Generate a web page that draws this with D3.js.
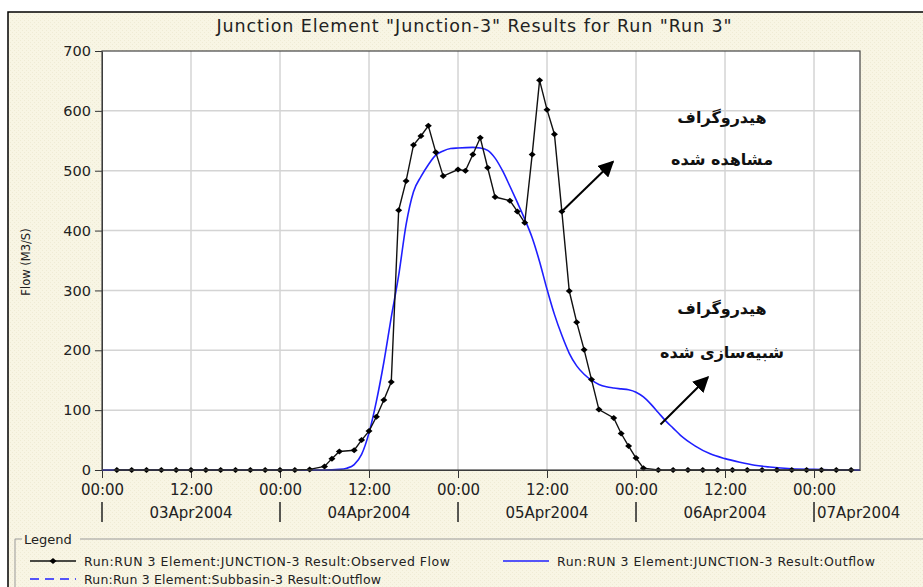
<!DOCTYPE html>
<html>
<head>
<meta charset="utf-8">
<script src="https://cdnjs.cloudflare.com/ajax/libs/d3/7.8.5/d3.min.js"></script>
<style>
body{margin:0;background:#fff;}
svg{display:block;}
</style>
</head>
<body>
<svg class="hydroChart" width="923" height="587"></svg>
<script>
// observed flow, hours after 03Apr2004 00:00
const observedHours = [2,4,6,8,10,12,14,16,18,20,22,24,26,28,30,31,32,34,35,36,37,38,39,40,41,42,43,44,45,46,48,49,50,51,52,53,55,56,57,58,59,60,61,62,63,64,65,66,67,69,70,71,72,73,75,77,79,81,83,85,87,89,91,93,95,97,99,101];
const observedFlow  = [0,0,0,0,0,0,0,0,0,0,0,0,0,1,6,19,31,33,50,65,89,117,147,434,483,543,558,575,531,491,502,500,527,555,505,456,450,432,413,527,651,602,561,432,299,247,201,151,101,87,61,40,20,3,0,0,0,0,0,0,0,0,0,0,0,0,0,0];

// simulated outflow (blue)
const simHours = [0,30,32,33,34,35,36,37,38,39,40,41,42,43,44,45,46,47,48,50,51,52,53,54,55,56,57,58,59,60,61,62,63,64,65,66,67,68,69,70,71,72,73,74,75,76,77,78,80,82,84,86,88,90,93,96,100,102.2];
const simFlow  = [0,0,1,3,9,26,62,115,180,255,325,410,465,490,510,526,533,537,538,539,538,534,521,500,474,447,419,388,348,302,260,225,195,174,160,150,143,139,137,135.5,134,130,122,110,96,82,70,58,40,27,19,13,8,5,2,1,0,0];

const yTicks = [0,100,200,300,400,500,600,700];
const dayLabels = ["03Apr2004","04Apr2004","05Apr2004","06Apr2004","07Apr2004"];
const legendLabels = [
  "Run:RUN 3 Element:JUNCTION-3 Result:Observed Flow",
  "Run:RUN 3 Element:JUNCTION-3 Result:Outflow",
  "Run:Run 3 Element:Subbasin-3 Result:Outflow"
];
const titleText = 'Junction Element "Junction-3" Results for Run "Run 3"';
const yLabel = "Flow (M3/S)";

// persian notes, placed in data units (hour, flow)
const notes = [
  {h: 83.6, v: 587, text: "هیدروگراف"},
  {h: 83.6, v: 517, text: "مشاهده شده"},
  {h: 83.6, v: 268, text: "هیدروگراف"},
  {h: 83.6, v: 195, text: "شبیه\u200Cسازی شده"}
];
const arrows = [
  {h0: 62, v0: 432, h1: 68.9, v1: 515},
  {h0: 75.3, v0: 76, h1: 81.7, v1: 155}
];

const start = Date.UTC(2004, 3, 3, 0, 0);
const endHour = 102.2;
const toDate = h => new Date(start + h * 3600e3);

const svg = d3.select(".hydroChart");
const font = "'DejaVu Sans', Verdana, sans-serif";

// cream textured background
const defs = svg.append("defs");
const pat = defs.append("pattern").attr("id", "tex").attr("width", 4).attr("height", 4)
  .attr("patternUnits", "userSpaceOnUse");
pat.append("rect").attr("width", 4).attr("height", 4).attr("fill", "#f8f5e4");
pat.append("rect").attr("x", 0).attr("y", 0).attr("width", 1).attr("height", 1).attr("fill", "#efebd5");
pat.append("rect").attr("x", 2).attr("y", 2).attr("width", 1).attr("height", 1).attr("fill", "#efebd5");
defs.append("marker").attr("id", "arrowHead")
  .attr("viewBox", "0 0 10 10").attr("refX", 9).attr("refY", 5)
  .attr("markerWidth", 8).attr("markerHeight", 8).attr("markerUnits", "strokeWidth")
  .attr("orient", "auto")
  .append("path").attr("d", "M0,0 L10,5 L0,10 Z").attr("fill", "#000");

svg.append("rect").attr("x", 8).attr("y", 12).attr("width", 930).attr("height", 600)
  .attr("fill", "url(#tex)").attr("stroke", "#000").attr("stroke-width", 1.5);

// title
svg.append("text").attr("x", 474).attr("y", 32)
  .attr("text-anchor", "middle").attr("font-family", font).attr("font-size", 17.5)
  .attr("fill", "#222").attr("textLength", 515).attr("lengthAdjust", "spacing")
  .text(titleText);

const margin = {left: 102, right: 860, top: 51, bottom: 470};

const x = d3.scaleUtc().domain([toDate(0), toDate(endHour)]).range([margin.left, margin.right]);
const y = d3.scaleLinear().domain([0, 700]).range([margin.bottom, margin.top]);

// plot area
svg.append("rect").attr("x", margin.left).attr("y", margin.top)
  .attr("width", margin.right - margin.left).attr("height", margin.bottom - margin.top)
  .attr("fill", "#fff");

const xTicks = d3.utcHour.every(12).range(toDate(0), toDate(endHour));

// grid
svg.append("g").selectAll("line").data(xTicks.slice(1)).join("line")
  .attr("x1", d => x(d)).attr("x2", d => x(d))
  .attr("y1", margin.top).attr("y2", margin.bottom)
  .attr("stroke", "#d4d4d4").attr("stroke-width", 1.5);
svg.append("g").selectAll("line").data(yTicks.slice(1, -1)).join("line")
  .attr("x1", margin.left).attr("x2", margin.right)
  .attr("y1", d => y(d)).attr("y2", d => y(d))
  .attr("stroke", "#d4d4d4").attr("stroke-width", 1.5);

// axes
const yAxis = svg.append("g").attr("transform", `translate(${margin.left},0)`)
  .call(d3.axisLeft(y).tickValues(yTicks).tickSize(7).tickSizeOuter(0).tickPadding(4));
yAxis.selectAll("text").attr("font-family", font).attr("font-size", 14.5).attr("fill", "#222");

const xAxis = svg.append("g").attr("transform", `translate(0,${margin.bottom})`)
  .call(d3.axisBottom(x).tickValues(xTicks).tickFormat(d3.utcFormat("%H:%M")).tickSize(8).tickSizeOuter(0).tickPadding(6));
xAxis.selectAll("text").attr("font-family", font).attr("font-size", 15).attr("fill", "#222");
svg.selectAll(".domain").attr("stroke", "#333");
svg.selectAll(".tick line").attr("stroke", "#333");

// date row
const days = d3.utcDay.range(toDate(0), toDate(endHour));
svg.append("g").selectAll("line").data(days).join("line")
  .attr("x1", d => x(d)).attr("x2", d => x(d))
  .attr("y1", 502).attr("y2", 522).attr("stroke", "#222").attr("stroke-width", 1.5);
svg.append("g").selectAll("text").data(days).join("text")
  .attr("font-family", font).attr("font-size", 15).attr("fill", "#222")
  .attr("y", 518)
  .each(function(d, i) {
    const next = d3.utcDay.offset(d, 1);
    const full = next <= toDate(endHour);
    d3.select(this)
      .attr("x", full ? x(d3.utcHour.offset(d, 12)) : x(d) + 3)
      .attr("text-anchor", full ? "middle" : "start")
      .text(dayLabels[i]);
  });

// y label
svg.append("text").attr("transform", "translate(30,262) rotate(-90)")
  .attr("text-anchor", "middle").attr("font-family", font).attr("font-size", 11.5)
  .attr("fill", "#222").text(yLabel);

// series
const simLine = d3.line().x((d, i) => x(toDate(simHours[i]))).y(d => y(d)).curve(d3.curveMonotoneX);
svg.append("path").datum(simFlow).attr("d", simLine)
  .attr("fill", "none").attr("stroke", "#1f1fff").attr("stroke-width", 1.6);

const obsLine = d3.line().x((d, i) => x(toDate(observedHours[i]))).y(d => y(d));
svg.append("path").datum(observedFlow).attr("d", obsLine)
  .attr("fill", "none").attr("stroke", "#111").attr("stroke-width", 1.4);
svg.append("g").selectAll("path").data(observedFlow).join("path")
  .attr("transform", (d, i) => `translate(${x(toDate(observedHours[i]))},${y(d)})`)
  .attr("d", "M-3.5,0 L0,-3 L3.5,0 L0,3 Z").attr("fill", "#000");

// plot border
svg.append("rect").attr("x", margin.left).attr("y", margin.top)
  .attr("width", margin.right - margin.left).attr("height", margin.bottom - margin.top)
  .attr("fill", "none").attr("stroke", "#444").attr("stroke-width", 1.2);

// annotations
svg.append("g").selectAll("text").data(notes).join("text")
  .attr("x", d => x(toDate(d.h))).attr("y", d => y(d.v))
  .attr("text-anchor", "middle").attr("dominant-baseline", "middle")
  .attr("font-family", font).attr("font-weight", "bold").attr("font-size", 16)
  .attr("fill", "#111").text(d => d.text);
svg.append("g").selectAll("line").data(arrows).join("line")
  .attr("x1", d => x(toDate(d.h0))).attr("y1", d => y(d.v0))
  .attr("x2", d => x(toDate(d.h1))).attr("y2", d => y(d.v1))
  .attr("stroke", "#000").attr("stroke-width", 2).attr("marker-end", "url(#arrowHead)");

// legend
const lg = svg.append("g");
lg.append("path").attr("d", "M22,539 H15 V600 M80,539 H940")
  .attr("fill", "none").attr("stroke", "#9a9a9a").attr("stroke-width", 1);
lg.append("text").attr("x", 24).attr("y", 544).attr("font-family", font).attr("font-size", 13)
  .attr("fill", "#222").text("Legend");

const legendItems = [
  {x: 30, y: 561, color: "#111", dash: null, marker: true},
  {x: 503, y: 561, color: "#1f1fff", dash: null, marker: false},
  {x: 30, y: 579, color: "#1f1fff", dash: "9,6", marker: false}
];
const legendWidths = [366, 318, 297];
legendItems.forEach((it, i) => {
  lg.append("line").attr("x1", it.x).attr("x2", it.x + 46).attr("y1", it.y).attr("y2", it.y)
    .attr("stroke", it.color).attr("stroke-width", 1.5).attr("stroke-dasharray", it.dash);
  if (it.marker) {
    lg.append("path").attr("transform", `translate(${it.x + 23},${it.y})`)
      .attr("d", "M-3.5,0 L0,-3 L3.5,0 L0,3 Z").attr("fill", "#000");
  }
  lg.append("text").attr("x", it.x + 54).attr("y", it.y + 4.5)
    .attr("font-family", font).attr("font-size", 12.5).attr("fill", "#222")
    .attr("textLength", legendWidths[i]).attr("lengthAdjust", "spacing")
    .text(legendLabels[i]);
});
</script>
</body>
</html>
